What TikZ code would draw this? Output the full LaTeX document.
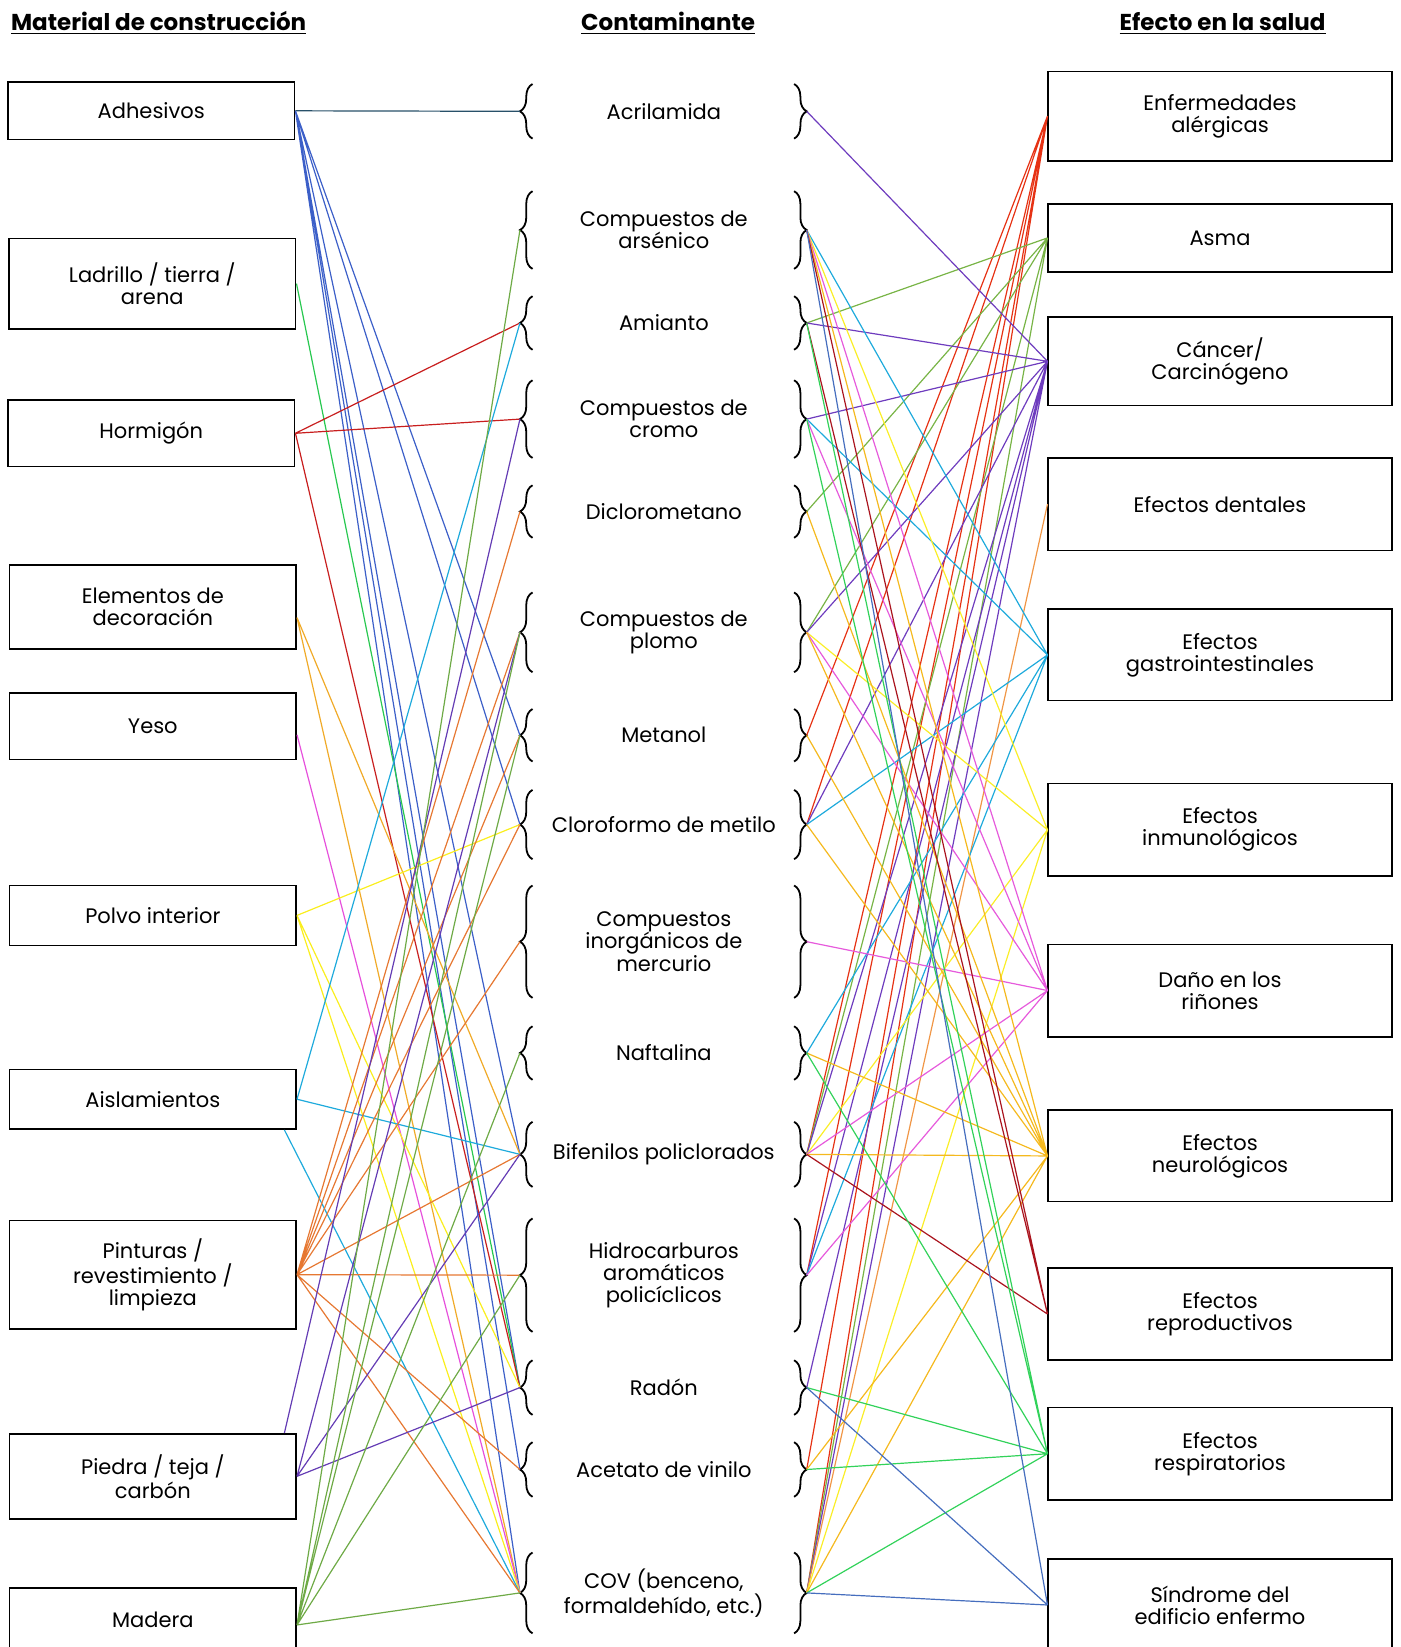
\documentclass[tikz,border=0pt]{standalone}
\usepackage{fontspec}
\setmainfont{Poppins}
\usetikzlibrary{decorations.pathreplacing}
\newlength\px
\setlength\px{0.52515pt}
% colours of the left links (material)
\definecolor{adhteal}{RGB}{40,80,105}
\definecolor{adh}{RGB}{60,95,200}
\definecolor{ladr}{RGB}{40,200,80}
\definecolor{horm}{RGB}{200,30,30}
\definecolor{elem}{RGB}{240,170,40}
\definecolor{yeso}{RGB}{230,80,220}
\definecolor{polvo}{RGB}{250,238,30}
\definecolor{aisl}{RGB}{30,170,220}
\definecolor{pint}{RGB}{230,120,50}
\definecolor{piedra}{RGB}{100,60,180}
\definecolor{madera}{RGB}{110,170,70}
% colours of the right links (effect)
\definecolor{alerg}{RGB}{230,50,20}
\definecolor{asma}{RGB}{120,180,70}
\definecolor{cancer}{RGB}{110,60,190}
\definecolor{dental}{RGB}{240,150,70}
\definecolor{gastro}{RGB}{30,170,220}
\definecolor{inmuno}{RGB}{250,238,40}
\definecolor{rinon}{RGB}{230,90,220}
\definecolor{neuro}{RGB}{245,185,30}
\definecolor{repro}{RGB}{170,20,30}
\definecolor{resp}{RGB}{50,210,90}
\definecolor{sind}{RGB}{70,110,190}
\tikzset{
	box/.style={draw, line width=0.8pt, inner sep=0pt, align=center, font=\fontsize{10.5}{11}\selectfont},
	matbox/.style={box, minimum width=273\px},
	effbox/.style={box, minimum width=327\px},
	cont/.style={align=center, inner sep=0pt, font=\fontsize{10.5}{11}\selectfont},
	coltitle/.style={inner sep=0pt, font=\bfseries\fontsize{11.5}{13}\selectfont},
	lbr/.style={decorate, decoration={brace, amplitude=6.3pt}, line width=0.9pt},
	link/.style={line width=0.6pt}
}
\begin{document}
\begin{tikzpicture}[x=0.52515pt, y=-0.52515pt]
		\useasboundingbox (0,0) rectangle (1333,1568);
		% titles
		\node[coltitle] (T1) at (151,22) {\underline{Material de construcción}};
		\node[coltitle] (T2) at (636,22) {\underline{Contaminante}};
		\node[coltitle] (T3) at (1164,22) {\underline{Efecto en la salud}};
		
		% building materials
		\node[matbox, minimum height=55\px] (M1) at (144,105.5) {Adhesivos};
		\node[matbox, minimum height=86\px] (M2) at (145,270) {Ladrillo / tierra /\\arena};
		\node[matbox, minimum height=63\px] (M3) at (144,412.5) {Hormigón};
		\node[matbox, minimum height=80\px] (M4) at (145.5,578) {Elementos de\\decoración};
		\node[matbox, minimum height=63\px] (M5) at (145.5,691.5) {Yeso};
		\node[matbox, minimum height=57\px] (M6) at (145.5,871.5) {Polvo interior};
		\node[matbox, minimum height=57\px] (M7) at (145.5,1046.5) {Aislamientos};
		\node[matbox, minimum height=103\px] (M8) at (145.5,1213.5) {Pinturas /\\revestimiento /\\limpieza};
		\node[matbox, minimum height=81\px] (M9) at (145.5,1405.5) {Piedra / teja /\\carbón};
		\node[matbox, minimum height=60\px] (M10) at (145.5,1542) {Madera};
		
		% pollutants with their braces
		\node[cont] (C1) at (632,106) {Acrilamida};
		\draw[lbr] (507,132) -- (507,80);
		\draw[lbr] (756,80) -- (756,132);
		\node[cont] (C2) at (632,219) {Compuestos de\\arsénico};
		\draw[lbr] (507,256) -- (507,182);
		\draw[lbr] (756,182) -- (756,256);
		\node[cont] (C3) at (632,307.5) {Amianto};
		\draw[lbr] (507,333) -- (507,282);
		\draw[lbr] (756,282) -- (756,333);
		\node[cont] (C4) at (632,399) {Compuestos de\\cromo};
		\draw[lbr] (507,436) -- (507,362);
		\draw[lbr] (756,362) -- (756,436);
		\node[cont] (C5) at (632,487) {Diclorometano};
		\draw[lbr] (507,512) -- (507,462);
		\draw[lbr] (756,462) -- (756,512);
		\node[cont] (C6) at (632,602) {Compuestos de\\plomo};
		\draw[lbr] (507,640) -- (507,564);
		\draw[lbr] (756,564) -- (756,640);
		\node[cont] (C7) at (632,700) {Metanol};
		\draw[lbr] (507,725) -- (507,675);
		\draw[lbr] (756,675) -- (756,725);
		\node[cont] (C8) at (632,785) {Cloroformo de metilo};
		\draw[lbr] (507,818) -- (507,752);
		\draw[lbr] (756,752) -- (756,818);
		\node[cont] (C9) at (632,896.5) {Compuestos\\inorgánicos de\\mercurio};
		\draw[lbr] (507,950) -- (507,843);
		\draw[lbr] (756,843) -- (756,950);
		\node[cont] (C10) at (632,1002.5) {Naftalina};
		\draw[lbr] (507,1028) -- (507,977);
		\draw[lbr] (756,977) -- (756,1028);
		\node[cont] (C11) at (632,1099) {Bifenilos policlorados};
		\draw[lbr] (507,1130) -- (507,1068);
		\draw[lbr] (756,1068) -- (756,1130);
		\node[cont] (C12) at (632,1214) {Hidrocarburos\\aromáticos\\policíclicos};
		\draw[lbr] (507,1268) -- (507,1160);
		\draw[lbr] (756,1160) -- (756,1268);
		\node[cont] (C13) at (632,1321) {Radón};
		\draw[lbr] (507,1347) -- (507,1295);
		\draw[lbr] (756,1295) -- (756,1347);
		\node[cont] (C14) at (632,1399) {Acetato de vinilo};
		\draw[lbr] (507,1425) -- (507,1373);
		\draw[lbr] (756,1373) -- (756,1425);
		\node[cont] (C15) at (632,1516.5) {COV (benceno,\\formaldehído, etc.)};
		\draw[lbr] (507,1555) -- (507,1478);
		\draw[lbr] (756,1478) -- (756,1555);
		
		% brace tips
		\coordinate (L1) at (495,106);    \coordinate (R1) at (768,106);
		\coordinate (L2) at (495,219);    \coordinate (R2) at (768,219);
		\coordinate (L3) at (495,307.5);  \coordinate (R3) at (768,307.5);
		\coordinate (L4) at (495,399);    \coordinate (R4) at (768,399);
		\coordinate (L5) at (495,487);    \coordinate (R5) at (768,487);
		\coordinate (L6) at (495,602);    \coordinate (R6) at (768,602);
		\coordinate (L7) at (495,700);    \coordinate (R7) at (768,700);
		\coordinate (L8) at (495,785);    \coordinate (R8) at (768,785);
		\coordinate (L9) at (495,896.5);  \coordinate (R9) at (768,896.5);
		\coordinate (L10) at (495,1002.5);\coordinate (R10) at (768,1002.5);
		\coordinate (L11) at (495,1099);  \coordinate (R11) at (768,1099);
		\coordinate (L12) at (495,1214);  \coordinate (R12) at (768,1214);
		\coordinate (L13) at (495,1321);  \coordinate (R13) at (768,1321);
		\coordinate (L14) at (495,1399);  \coordinate (R14) at (768,1399);
		\coordinate (L15) at (495,1516.5);\coordinate (R15) at (768,1516.5);
		
		% health effects
		\node[effbox, minimum height=85\px] (E1) at (1161.5,110.5) {Enfermedades\\alérgicas};
		\node[effbox, minimum height=65\px] (E2) at (1161.5,226.5) {Asma};
		\node[effbox, minimum height=84\px] (E3) at (1161.5,344) {Cáncer/\\Carcinógeno};
		\node[effbox, minimum height=88\px] (E4) at (1161.5,480) {Efectos dentales};
		\node[effbox, minimum height=87\px] (E5) at (1161.5,623.5) {Efectos\\gastrointestinales};
		\node[effbox, minimum height=88\px] (E6) at (1161.5,790) {Efectos\\inmunológicos};
		\node[effbox, minimum height=88\px] (E7) at (1161.5,943) {Daño en los\\riñones};
		\node[effbox, minimum height=87\px] (E8) at (1161.5,1100.5) {Efectos\\neurológicos};
		\node[effbox, minimum height=88\px] (E9) at (1161.5,1251) {Efectos\\reproductivos};
		\node[effbox, minimum height=88\px] (E10) at (1161.5,1384) {Efectos\\respiratorios};
		\node[effbox, minimum height=88\px] (E11) at (1161.5,1528) {Síndrome del\\edificio enfermo};
		
		% material -> pollutant
		\draw[link, adhteal] (M1.east) -- (L1);
		\draw[link, adh] (M1.east) -- (L7) (M1.east) -- (L8) (M1.east) -- (L11) (M1.east) -- (L13) (M1.east) -- (L14) (M1.east) -- (L15);
		\draw[link, ladr] (M2.east) -- (L13);
		\draw[link, horm] (M3.east) -- (L3) (M3.east) -- (L4) (M3.east) -- (L13);
		\draw[link, elem] ([yshift=-10\px]M4.east) -- (L11) ([yshift=-10\px]M4.east) -- (L15);
		\draw[link, yeso] ([yshift=-8\px]M5.east) -- (L15);
		\draw[link, polvo] (M6.east) -- (L8) (M6.east) -- (L13) (M6.east) -- (L15);
		\draw[link, aisl] (M7.east) -- (L3) (M7.east) -- (L11) ([xshift=-6.3pt]M7.south east) -- (L15);
		\draw[link, pint] (M8.east) -- (L5) (M8.east) -- (L6) (M8.east) -- (L7) (M8.east) -- (L8) (M8.east) -- (L9) (M8.east) -- (L11) (M8.east) -- (L12) (M8.east) -- (L14) (M8.east) -- (L15);
		\draw[link, piedra] ([xshift=-6.3pt]M9.north east) -- (L4) (M9.east) -- (L6) (M9.east) -- (L11) (M9.east) -- (L13);
		\draw[link, madera] ([yshift=-5\px]M10.east) -- (L2) ([yshift=-5\px]M10.east) -- (L6) ([yshift=-5\px]M10.east) -- (L7) ([yshift=-5\px]M10.east) -- (L10) ([yshift=-5\px]M10.east) -- (L12) ([yshift=-5\px]M10.east) -- (L15);
		
		% pollutant -> health effect
		\draw[link, alerg] (R7) -- (E1.west) (R8) -- (E1.west) (R11) -- (E1.west) (R12) -- (E1.west) (R14) -- (E1.west) (R15) -- (E1.west);
		\draw[link, asma] (R3) -- (E2.west) (R5) -- (E2.west) (R6) -- (E2.west) (R11) -- (E2.west) (R15) -- (E2.west);
		\draw[link, cancer] (R1) -- (E3.west) (R3) -- (E3.west) (R4) -- (E3.west) (R6) -- (E3.west) (R8) -- (E3.west) (R11) -- (E3.west) (R12) -- (E3.west) (R13) -- (E3.west) (R15) -- (E3.west);
		\draw[link, dental] (R15) -- (E4.west);
		\draw[link, gastro] (R2) -- (E5.west) (R4) -- (E5.west) (R8) -- (E5.west) (R10) -- (E5.west) (R12) -- (E5.west);
		\draw[link, inmuno] (R2) -- (E6.west) (R6) -- (E6.west) (R11) -- (E6.west) (R15) -- (E6.west);
		\draw[link, rinon] (R2) -- (E7.west) (R4) -- (E7.west) (R6) -- (E7.west) (R9) -- (E7.west) (R11) -- (E7.west) (R12) -- (E7.west);
		\draw[link, neuro] (R2) -- (E8.west) (R5) -- (E8.west) (R6) -- (E8.west) (R7) -- (E8.west) (R8) -- (E8.west) (R10) -- (E8.west) (R11) -- (E8.west) (R14) -- (E8.west) (R15) -- (E8.west);
		\draw[link, repro] (R2) -- (E9.west) (R3) -- (E9.west) (R11) -- (E9.west);
		\draw[link, resp] (R3) -- (E10.west) (R4) -- (E10.west) (R10) -- (E10.west) (R13) -- (E10.west) (R14) -- (E10.west) (R15) -- (E10.west);
		\draw[link, sind] (R2) -- (E11.west) (R13) -- (E11.west) (R15) -- (E11.west);
		
		\end{tikzpicture}
\end{document}
